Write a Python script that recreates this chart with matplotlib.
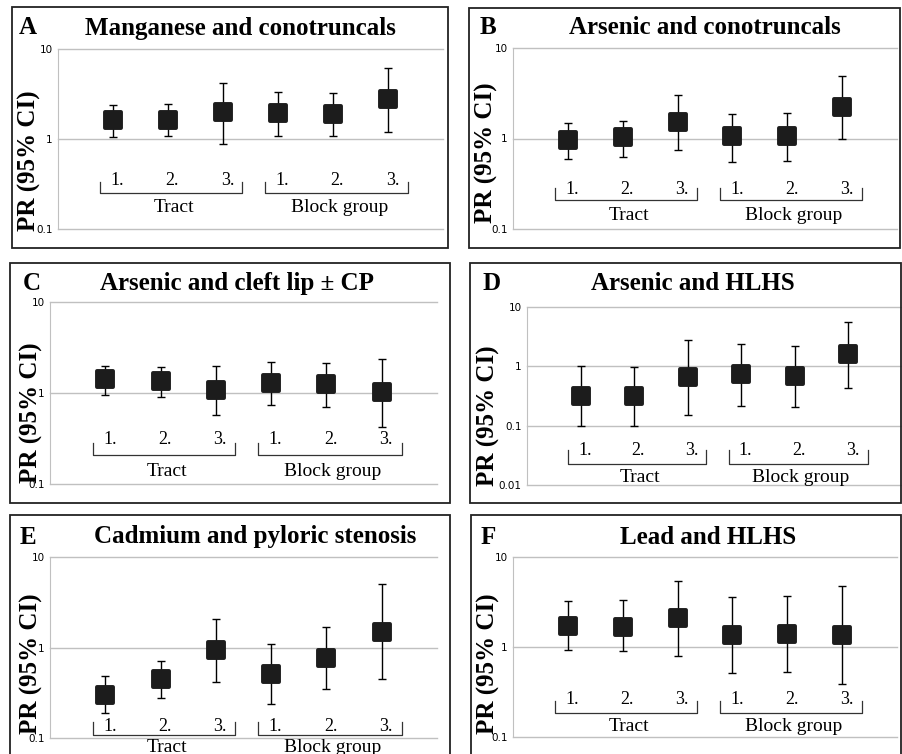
import matplotlib
matplotlib.use('Agg')
import matplotlib.pyplot as plt
import numpy as np
from matplotlib.markers import MarkerStyle
from matplotlib.patches import Rectangle
from matplotlib.ticker import NullLocator

# data: prevalence ratio with 95% CI
groups = ['Tract', 'Block group']
cat_labels = ['1.', '2.', '3.', '1.', '2.', '3.']

pr_a = [1.61, 1.61, 1.98, 1.95, 1.91, 2.81]
lo_a = [1.05, 1.07, 0.89, 1.09, 1.07, 1.19]
hi_a = [2.39, 2.43, 4.19, 3.30, 3.25, 6.20]

pr_b = [0.96, 1.03, 1.54, 1.06, 1.06, 2.25]
lo_b = [0.59, 0.62, 0.74, 0.55, 0.57, 0.98]
hi_b = [1.50, 1.58, 3.03, 1.87, 1.92, 4.91]

pr_c = [1.41, 1.36, 1.09, 1.29, 1.25, 1.02]
lo_c = [0.95, 0.91, 0.57, 0.73, 0.71, 0.42]
hi_c = [1.96, 1.91, 1.96, 2.19, 2.13, 2.36]

pr_d = [0.32, 0.32, 0.67, 0.74, 0.70, 1.61]
lo_d = [0.10, 0.097, 0.149, 0.217, 0.206, 0.437]
hi_d = [1.00, 0.96, 2.81, 2.35, 2.23, 5.66]

pr_e = [0.30, 0.45, 0.935, 0.51, 0.76, 1.50]
lo_e = [0.188, 0.275, 0.42, 0.239, 0.347, 0.45]
hi_e = [0.48, 0.71, 2.06, 1.09, 1.68, 5.00]

pr_f = [1.72, 1.68, 2.10, 1.36, 1.41, 1.35]
lo_f = [0.93, 0.90, 0.80, 0.51, 0.53, 0.385]
hi_f = [3.27, 3.29, 5.44, 3.62, 3.71, 4.79]

titles = ['Manganese and conotruncals', 'Arsenic and conotruncals',
          'Arsenic and cleft lip \u00b1 CP', 'Arsenic and HLHS',
          'Cadmium and pyloric stenosis', 'Lead and HLHS']
letters = ['A', 'B', 'C', 'D', 'E', 'F']

W, H = 903, 754
fig = plt.figure(figsize=(W / 100, H / 100), dpi=100)
serif = 'Liberation Serif'

def px_axes(l, r, t, b):
    return fig.add_axes([l / W, 1 - b / H, (r - l) / W, (b - t) / H])

# layout in pixels (panel box, axes box, title/letter positions, label offsets)
panels = [
    dict(d=(pr_a, lo_a, hi_a), box=(12, 448, 7, 248), ax=(58, 443, 49, 229), tx=240, ty=28, lx=28,
         ylim=(0.1, 10), yl=(-0.074, 0.38), dy=0.27, bt=0.26, bb=0.20, gy=0.118),
    dict(d=(pr_b, lo_b, hi_b), box=(469, 900, 8, 248), ax=(513, 897, 48, 229), tx=705, ty=28, lx=488,
         ylim=(0.1, 10), yl=(-0.069, 0.42), dy=0.22, bt=0.228, bb=0.158, gy=0.075),
    dict(d=(pr_c, lo_c, hi_c), box=(10, 450, 263, 503), ax=(50, 437, 302, 484), tx=237, ty=283, lx=32,
         ylim=(0.1, 10), yl=(-0.049, 0.39), dy=0.244, bt=0.225, bb=0.158, gy=0.07),
    dict(d=(pr_d, lo_d, hi_d), box=(470, 901, 263, 503), ax=(527, 902, 307, 485), tx=693, ty=283, lx=492,
         ylim=(0.01, 10), yl=(-0.104, 0.39), dy=0.195, bt=0.195, bb=0.12, gy=0.04),
    dict(d=(pr_e, lo_e, hi_e), box=(10, 450, 515, 770), ax=(50, 437, 557, 738), tx=255, ty=537, lx=28,
         ylim=(0.1, 10), yl=(-0.049, 0.41), dy=0.063, bt=0.09, bb=0.017, gy=-0.05),
    dict(d=(pr_f, lo_f, hi_f), box=(471, 901, 515, 770), ax=(513, 897, 557, 737), tx=708, ty=537, lx=488,
         ylim=(0.1, 10), yl=(-0.065, 0.41), dy=0.21, bt=0.20, bb=0.136, gy=0.057),
]

x = np.arange(1, 7)
sq = MarkerStyle('s', joinstyle='round')

for p, title, letter in zip(panels, titles, letters):
    l, r, t, b = p['box']
    fig.patches.append(Rectangle((l / W, 1 - b / H), (r - l) / W, (b - t) / H,
                                 transform=fig.transFigure, fill=False,
                                 edgecolor='#222222', lw=1.3))
    fig.text(p['tx'] / W, 1 - p['ty'] / H, title, ha='center', va='center',
             family=serif, weight='bold', fontsize=18)
    fig.text(p['lx'] / W, 1 - p['ty'] / H, letter, ha='center', va='center',
             family=serif, weight='bold', fontsize=18)

    ax = px_axes(*p['ax'])
    pr, lo, hi = [np.array(v) for v in p['d']]
    ax.errorbar(x, pr, yerr=[pr - lo, hi - pr], fmt='none', ecolor='black',
                elinewidth=1, capsize=2.9, capthick=1, zorder=3)
    ax.plot(x, pr, linestyle='none', marker=sq, ms=11, mew=2.8,
            mfc='#1c1c1c', mec='#1c1c1c', zorder=4)

    ax.set_yscale('log')
    ax.set_ylim(*p['ylim'])
    ax.set_xlim(0, 7)
    ticks = [v for v in [0.01, 0.1, 1, 10] if v >= p['ylim'][0]]
    ax.set_yticks(ticks)
    ax.set_yticklabels([('%g' % v) for v in ticks], fontsize=7.5, family='DejaVu Sans')
    ax.yaxis.set_minor_locator(NullLocator())
    ax.set_xticks([])
    ax.tick_params(axis='y', length=0, pad=4)
    ax.grid(axis='y', color='#c0c0c0', lw=1)
    for gl in ax.get_ygridlines():
        gl.set_clip_on(False)
    for s in ['top', 'right', 'bottom']:
        ax.spines[s].set_visible(False)
    ax.spines['left'].set_color('#c0c0c0')
    ax.set_axisbelow(True)

    ax.set_ylabel('PR (95% CI)', family=serif, weight='bold', fontsize=18)
    ax.yaxis.label.set_verticalalignment('center')
    ax.yaxis.set_label_coords(*p['yl'])

    # category labels, brackets and group names under the markers
    tr = ax.get_xaxis_transform()
    for xi, lab in zip(x, cat_labels):
        ax.text(xi + 0.08, p['dy'], lab, transform=tr, ha='center', va='center',
                family=serif, fontsize=13, clip_on=False)
    for (x0, x1), g in zip([(0.77, 3.35), (3.77, 6.36)], groups):
        ax.plot([x0, x0, x1, x1], [p['bt'], p['bb'], p['bb'], p['bt']],
                transform=tr, color='#333333', lw=0.9, clip_on=False)
        ax.text((x0 + x1) / 2 + 0.05, p['gy'], g, transform=tr, ha='center', va='center',
                family=serif, fontsize=14, clip_on=False)

fig.savefig('out.png', dpi=100)
